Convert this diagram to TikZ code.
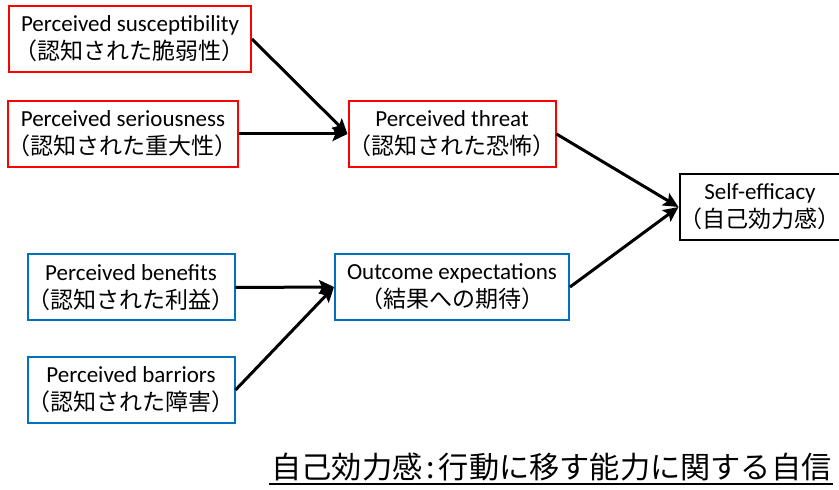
\documentclass[tikz,border=0pt]{standalone}
\usepackage{fontspec}
\setmainfont{Carlito}
\newfontfamily\jp{Noto Sans CJK JP}
\usetikzlibrary{arrows.meta}
\definecolor{boxred}{RGB}{255,0,0}
\definecolor{boxblue}{RGB}{0,112,192}
\tikzset{
  box/.style={draw, line width=2pt, minimum height=66pt, inner sep=0pt,
    align=center, fill=white, text=black, font=\fontsize{23}{28}\selectfont},
  redbox/.style={box, draw=boxred},
  bluebox/.style={box, draw=boxblue},
  blackbox/.style={box, draw=black},
  conn/.style={line width=3pt, -{Stealth[length=15pt,width=14pt,inset=3pt]}},
}
\begin{document}
\begin{tikzpicture}[x=1pt,y=1pt]
\useasboundingbox (0,0) rectangle (839,490);
\node[redbox, minimum width=242pt] (sus) at (130,451) {Perceived susceptibility\\{\jp （認知された脆弱性）}};
\node[redbox, minimum width=228pt] (ser) at (123,356) {Perceived seriousness\\{\jp （認知された重大性）}};
\node[redbox, minimum width=200pt] (thr) at (452,356) {Perceived threat\\{\jp （認知された恐怖）}};
\node[blackbox, minimum width=150pt] (se) at (760,283) {Self-efficacy\\{\jp （自己効力感）}};
\node[bluebox, minimum width=200pt] (ben) at (131,202.5) {Perceived benefits\\{\jp （認知された利益）}};
\node[bluebox, minimum width=234pt] (out) at (452,203) {Outcome expectations\\{\jp （結果への期待）}};
\node[bluebox, minimum width=200pt] (bar) at (131,100) {Perceived barriors\\{\jp （認知された障害）}};
\draw[conn] (sus.east) -- (thr.west);
\draw[conn] (ser.east) -- (thr.west);
\draw[conn] (thr.east) -- (se.west);
\draw[conn] (out.east) -- (se.west);
\draw[conn] (ben.east) -- (out.west);
\draw[conn] (bar.east) -- (out.west);
\node[inner sep=0pt, font=\jp\fontsize{30.2}{36}\selectfont] (def) at (551.5,23) {自己効力感\hspace{4pt}:\hspace{4pt}行動に移す能力に関する自信};
\draw[line width=2pt] ([xshift=-2pt,yshift=-3pt]def.south west) -- ([xshift=1pt,yshift=-3pt]def.south east);
\end{tikzpicture}
\end{document}
